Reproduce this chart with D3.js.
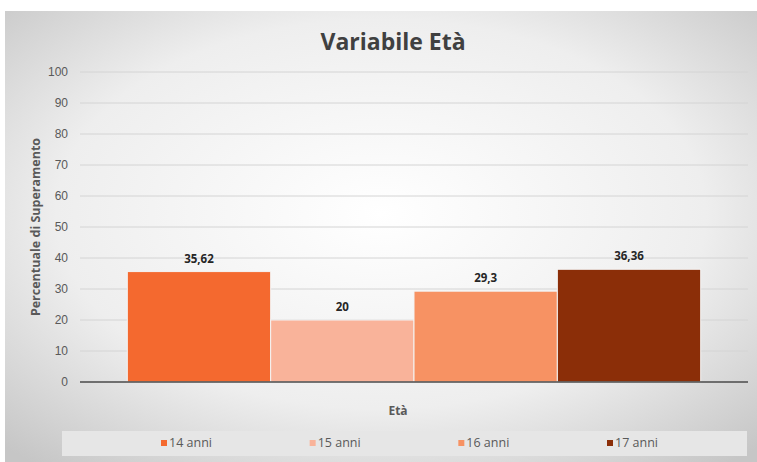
<!DOCTYPE html>
<html>
<head>
<meta charset="utf-8">
<script src="https://cdn.jsdelivr.net/npm/d3@7"></script>
<style>
  body { margin: 0; background: #fff; }
  svg { display: block; font-family: "Open Sans", "Noto Sans", sans-serif; }
</style>
</head>
<body>
<script>
var series = ["14 anni", "15 anni", "16 anni", "17 anni"];
var values = [35.62, 20, 29.3, 36.36];
var labels = ["35,62", "20", "29,3", "36,36"];
var colors = ["#f4692f", "#f9b39a", "#f79263", "#8b2e08"];
var yTicks = [0, 10, 20, 30, 40, 50, 60, 70, 80, 90, 100];

var W = 757, H = 462;
var plot = {left: 80, right: 748, top: 72, bottom: 382};

var svg = d3.select("body").append("svg")
    .attr("width", W)
    .attr("height", H);

var defs = svg.append("defs");
var grad = defs.append("radialGradient")
    .attr("id", "bg")
    .attr("cx", "50%").attr("cy", "45%").attr("r", "72%");
grad.append("stop").attr("offset", "0%").attr("stop-color", "#ffffff");
grad.append("stop").attr("offset", "60%").attr("stop-color", "#eeeeee");
grad.append("stop").attr("offset", "100%").attr("stop-color", "#c6c6c6");

svg.append("rect")
    .attr("x", 5).attr("y", 11)
    .attr("width", W - 5).attr("height", H - 11)
    .attr("fill", "url(#bg)");

var x = d3.scaleBand()
    .domain(series)
    .range([plot.left, plot.right])
    .paddingInner(0)
    .paddingOuter(0.33);

var y = d3.scaleLinear()
    .domain([0, 100])
    .range([plot.bottom, plot.top]);

// grid
svg.append("g")
    .selectAll("line")
    .data(yTicks.slice(1))
    .join("line")
      .attr("x1", plot.left).attr("x2", plot.right)
      .attr("y1", d => y(d)).attr("y2", d => y(d))
      .attr("stroke", "#d4d4d4")
      .attr("stroke-width", 1);

// y axis labels
var yAxis = svg.append("g")
    .attr("transform", `translate(${plot.left - 12},0)`)
    .call(d3.axisLeft(y).tickValues(yTicks).tickSize(0).tickPadding(0));
yAxis.select(".domain").remove();
yAxis.selectAll("text")
    .attr("fill", "#595959")
    .style("font-size", "12px");

// bars
svg.append("g")
    .selectAll("rect")
    .data(values)
    .join("rect")
      .attr("x", (d, i) => x(series[i]))
      .attr("y", d => y(d))
      .attr("width", x.bandwidth())
      .attr("height", d => y(0) - y(d))
      .attr("fill", (d, i) => colors[i])
      .attr("stroke", "#f4f4f4")
      .attr("stroke-width", 1);

// value labels
svg.append("g")
    .selectAll("text")
    .data(values)
    .join("text")
      .attr("x", (d, i) => x(series[i]) + x.bandwidth() / 2)
      .attr("y", d => y(d) - 9)
      .attr("text-anchor", "middle")
      .attr("fill", "#262626")
      .style("font-size", "11.5px")
      .style("font-weight", "bold")
      .text((d, i) => labels[i]);

// baseline
svg.append("line")
    .attr("x1", plot.left).attr("x2", plot.right)
    .attr("y1", y(0)).attr("y2", y(0))
    .attr("stroke", "#4a4a4a")
    .attr("stroke-width", 1.5);

// title
svg.append("text")
    .attr("x", 393).attr("y", 50)
    .attr("text-anchor", "middle")
    .attr("fill", "#404040")
    .style("font-size", "23px")
    .style("font-weight", "bold")
    .text("Variabile Età");

// axis titles
svg.append("text")
    .attr("transform", `translate(40,${(plot.top + plot.bottom) / 2}) rotate(-90)`)
    .attr("text-anchor", "middle")
    .attr("fill", "#595959")
    .style("font-size", "12.5px")
    .style("font-weight", "bold")
    .text("Percentuale di Superamento");

svg.append("text")
    .attr("x", 398).attr("y", 415)
    .attr("text-anchor", "middle")
    .attr("fill", "#595959")
    .style("font-size", "12px")
    .style("font-weight", "bold")
    .text("Età");

// legend
svg.append("rect")
    .attr("x", 62).attr("y", 431)
    .attr("width", 685).attr("height", 25)
    .attr("fill", "#e6e6e6");

var legendX = d3.scalePoint()
    .domain(series)
    .range([161, 607]);

var leg = svg.append("g")
    .selectAll("g")
    .data(series)
    .join("g")
      .attr("transform", d => `translate(${legendX(d)},443)`);
leg.append("rect")
    .attr("x", 0).attr("y", -3)
    .attr("width", 6).attr("height", 6)
    .attr("fill", (d, i) => colors[i]);
leg.append("text")
    .attr("x", 8).attr("y", 4)
    .attr("fill", "#595959")
    .style("font-size", "12.5px")
    .text(d => d);
</script>
</body>
</html>
